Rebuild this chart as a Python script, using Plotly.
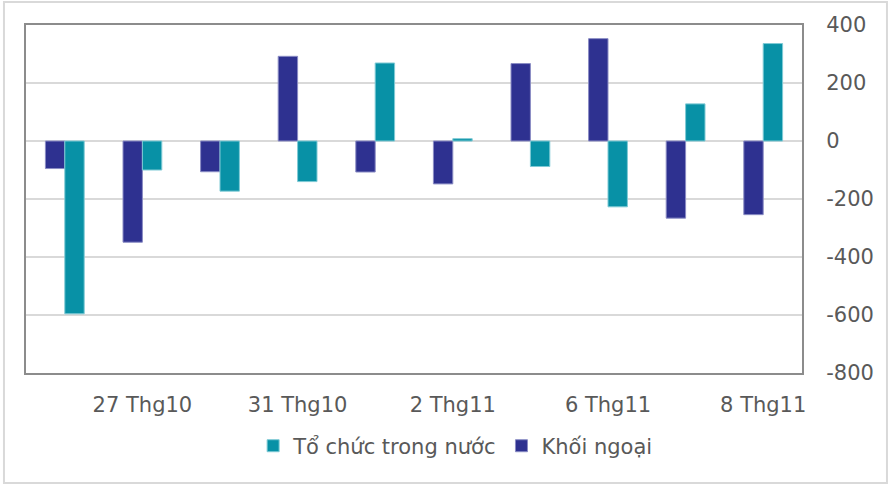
import plotly.graph_objects as go

dates = ["26 Thg10", "27 Thg10", "30 Thg10", "31 Thg10", "1 Thg11",
         "2 Thg11", "3 Thg11", "6 Thg11", "7 Thg11", "8 Thg11"]
khoi_ngoai = [-95, -349, -106, 292, -107, -148, 267, 353, -266, -254]
to_chuc = [-596, -100, -173, -140, 269, 8, -88, -227, 128, 336]
tick_labels = ["27 Thg10", "31 Thg10", "2 Thg11", "6 Thg11", "8 Thg11"]
y_ticks = [400, 200, 0, -200, -400, -600, -800]
y_tick_labels = ["400", "200", "0", "-200", "-400", "-600", "-800"]

FONT = "DejaVu Sans"
TXT = "#595959"

fig = go.Figure()
fig.add_bar(x=dates, y=khoi_ngoai, name="Khối ngoại",
            marker=dict(color="#2E3190", line=dict(color="#8A8CC4", width=1)),
            legendrank=2)
fig.add_bar(x=dates, y=to_chuc, name="Tổ chức trong nước",
            marker=dict(color="#0891A6", line=dict(color="#7FCAD5", width=1)),
            legendrank=1)

fig.update_layout(
    width=891, height=487,
    margin=dict(l=26, r=89, t=25, b=114),
    paper_bgcolor="white", plot_bgcolor="white",
    barmode="group", bargap=0.5, bargroupgap=0,
    font=dict(family=FONT, size=21, color=TXT),
    showlegend=True,
    legend=dict(orientation="h", x=0.553, xanchor="center", y=-0.21, yanchor="middle",
                font=dict(family=FONT, size=21, color=TXT), itemwidth=30,
                traceorder="normal"),
    xaxis=dict(type="category", tickmode="array", tickvals=[dates[i] for i in (1, 3, 5, 7, 9)],
               ticktext=tick_labels, showgrid=False, showline=True, mirror=True,
               linecolor="#8C8C8C", linewidth=2, ticks="", ticklabelstandoff=12,
               automargin=False,
               tickfont=dict(family=FONT, size=21, color=TXT)),
    yaxis=dict(side="right", range=[-800, 400], tickmode="array", tickvals=y_ticks,
               ticktext=y_tick_labels, showgrid=True,
               gridcolor="#D9D9D9", gridwidth=1.5, zeroline=True, zerolinecolor="#D9D9D9",
               zerolinewidth=1.5, showline=True, mirror=True, linecolor="#8C8C8C",
               linewidth=2, ticks="", ticklabelstandoff=18, automargin=False,
               tickfont=dict(family=FONT, size=21, color=TXT)),
    shapes=[dict(type="rect", xref="paper", yref="paper",
                 x0=-0.0284, x1=1.1095, y0=-0.316, y1=1.0661,
                 line=dict(color="#D9D9D9", width=2), fillcolor="rgba(0,0,0,0)",
                 layer="below")],
)

fig.write_html("out.html", config={"displayModeBar": False},
               post_script="document.body.style.margin='0';")
